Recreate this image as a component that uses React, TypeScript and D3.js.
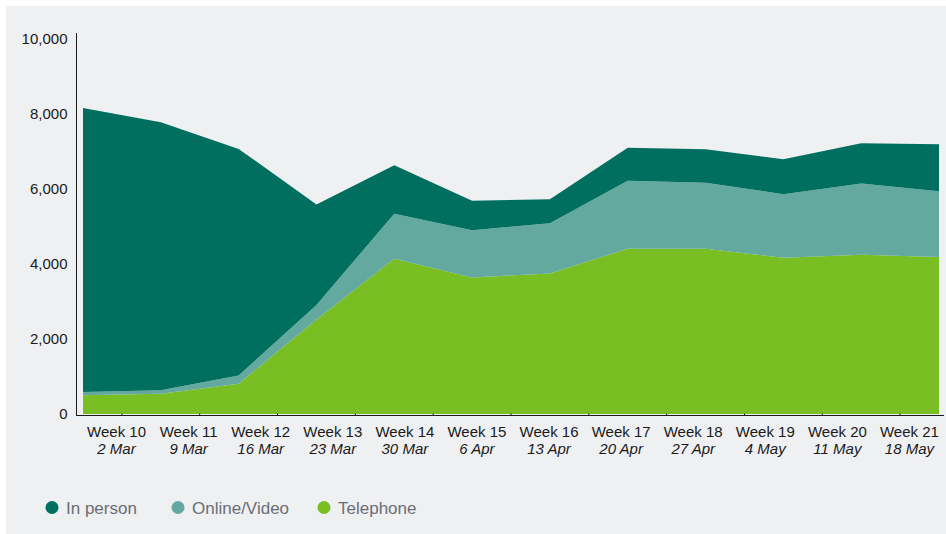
import React from "react";
import * as d3 from "d3";

const weeks = ["Week 10", "Week 11", "Week 12", "Week 13", "Week 14", "Week 15", "Week 16", "Week 17", "Week 18", "Week 19", "Week 20", "Week 21"];
const dates = ["2 Mar", "9 Mar", "16 Mar", "23 Mar", "30 Mar", "6 Apr", "13 Apr", "20 Apr", "27 Apr", "4 May", "11 May", "18 May"];
const telephone = [500, 540, 810, 2520, 4140, 3640, 3750, 4410, 4410, 4170, 4250, 4190];
const onlineVideo = [90, 95, 215, 390, 1200, 1260, 1340, 1810, 1760, 1690, 1895, 1750];
const inPerson = [7570, 7145, 6045, 2675, 1295, 790, 640, 880, 890, 935, 1075, 1255];
const yTicks = [0, 2000, 4000, 6000, 8000, 10000];

const seriesKeys = ["Telephone", "Online/Video", "In person"];
const colors: Record<string, string> = {
  "In person": "#006f5f",
  "Online/Video": "#64a9a0",
  Telephone: "#79be22",
};
const legendOrder = ["In person", "Online/Video", "Telephone"];

const W = 946;
const H = 534;
const FONT = "'Liberation Sans', Arial, Helvetica, sans-serif";

export default function App() {
  const rows = weeks.map((w, i) => ({
    idx: i,
    Telephone: telephone[i],
    "Online/Video": onlineVideo[i],
    "In person": inPerson[i],
  }));

  const x = d3.scaleLinear().domain([0, weeks.length - 1]).range([83, 939]);
  const xLabel = d3.scaleBand<string>().domain(weeks).range([80.5, 945.5]);
  const y = d3.scaleLinear().domain([0, 10000]).range([414, 39]);

  const stack = d3.stack<any>().keys(seriesKeys);
  const layers = stack(rows);
  const area = d3
    .area<any>()
    .x((d) => x(d.data.idx))
    .y0((d) => y(d[0]))
    .y1((d) => y(d[1]));

  const midTicks = d3.range(weeks.length - 1).map((i) => x(i + 0.5));
  const legendX = [52, 178, 324];

  return (
    <svg
      width={W}
      height={H}
      style={{ position: "absolute", left: 0, top: 0, fontFamily: FONT }}
    >
      <rect x={0} y={0} width={W} height={H} fill="#ffffff" />
      <rect x={6} y={6} width={W - 6} height={H - 6} fill="#eff0f2" />
      {layers.map((layer) => (
        <path key={layer.key} d={area(layer) || ""} fill={colors[layer.key]} />
      ))}
      {/* axes */}
      <line x1={76.5} x2={76.5} y1={33} y2={416} stroke="#1a1a1a" strokeWidth={1} />
      <line x1={76.5} x2={944} y1={415.5} y2={415.5} stroke="#1a1a1a" strokeWidth={1} />
      {midTicks.map((t, i) => (
        <line key={i} x1={t} x2={t} y1={413.5} y2={415.5} stroke="#1a1a1a" strokeWidth={1} />
      ))}
      {yTicks.map((t) => (
        <text
          key={t}
          x={67.5}
          y={y(t)}
          dy="0.36em"
          textAnchor="end"
          fontSize={15}
          fill="#1a1a1a"
        >
          {d3.format(",")(t)}
        </text>
      ))}
      {weeks.map((w, i) => {
        const cx = (xLabel(w) || 0) + xLabel.bandwidth() / 2;
        return (
          <g key={w}>
            <text x={cx} y={437} textAnchor="middle" fontSize={15} fill="#1a1a1a">
              {w}
            </text>
            <text x={cx} y={454} textAnchor="middle" fontSize={15} fontStyle="italic" fill="#1a1a1a">
              {dates[i]}
            </text>
          </g>
        );
      })}
      {legendOrder.map((k, i) => (
        <g key={k}>
          <circle cx={legendX[i]} cy={507.5} r={6.5} fill={colors[k]} />
          <text x={legendX[i] + 14} y={507.5} dy="0.36em" fontSize={17} fill="#6b6e76">
            {k}
          </text>
        </g>
      ))}
    </svg>
  );
}
